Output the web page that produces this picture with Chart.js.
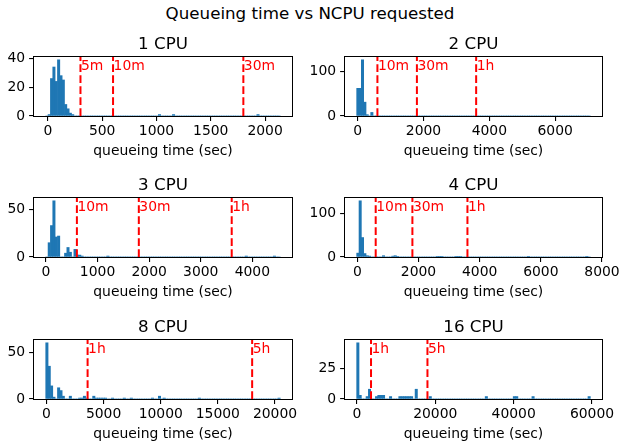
<!DOCTYPE html>
<html>
<head>
<meta charset="utf-8">
<script src="https://cdn.jsdelivr.net/npm/chart.js@4.4.0/dist/chart.umd.min.js"></script>
<style>
  html, body { margin: 0; padding: 0; background: #fff; }
  #figura { position: relative; width: 620px; height: 447px; overflow: hidden; }
  #supertitulo {
    position: absolute; left: 0; top: 3px; width: 620px; text-align: center;
    font-family: "DejaVu Sans"; font-size: 16.7px; line-height: 20px; color: #000;
  }
  canvas { position: absolute; }
</style>
</head>
<body>
<div id="figura">
  <div id="supertitulo">Queueing time vs NCPU requested</div>
</div>
<script>
// Títulos de cada panel
const titulos = ['1 CPU', '2 CPU', '3 CPU', '4 CPU', '8 CPU', '16 CPU'];

// Rango de los datos (seg) de cada panel: los 100 intervalos van del mínimo al máximo
const minimos = [-20, -30, -4, -22, -64, -59];
const maximos = [2140, 7069, 4541, 7618, 20461, 59562];

// Intervalos con trabajos (índice del intervalo) y cuántos trabajos caen en cada uno
const intervalos1 = [1, 2, 3, 4, 5, 6, 7, 8, 9, 10, 11, 48, 54, 90];
const cuentas1    = [1, 26, 34, 24, 39, 28, 25, 8, 5, 2, 1, 1, 1, 1];
const intervalos2 = [0, 1, 2, 3, 4, 6];
const cuentas2    = [62, 62, 126, 31, 3, 8];
const intervalos3 = [1, 2, 3, 4, 5, 8, 9, 10, 12, 13, 14, 15, 26, 85, 97];
const cuentas3    = [15, 33, 59, 21, 22, 4, 10, 5, 8, 2, 2, 1, 1, 1, 1];
const intervalos4 = [0, 1, 2, 3, 4, 5, 11, 15, 16, 17, 34, 35, 36, 42, 43, 44, 73, 98];
const cuentas4    = [9, 130, 45, 8, 3, 2, 3, 2, 3, 1, 1, 1, 1, 1, 1, 1, 1, 1];
const intervalos8 = [0, 1, 2, 3, 5, 6, 7, 10, 14, 15, 16, 17, 20, 21, 22, 23, 24, 25, 28, 33, 36, 45, 48, 50, 65, 99];
const cuentas8    = [60, 35, 14, 2, 12, 9, 3, 3, 1, 1, 3, 1, 3, 1, 1, 1, 1, 1, 1, 1, 1, 1, 3, 1, 1, 1];
const intervalos16 = [0, 1, 4, 5, 8, 9, 10, 11, 14, 18, 19, 20, 21, 22, 23, 25, 31, 55, 67, 68, 75, 99];
const cuentas16    = [46, 3, 2, 8, 2, 3, 3, 3, 2, 2, 2, 2, 2, 2, 2, 8, 2, 2, 2, 2, 2, 2];

// Líneas de referencia (seg) y sus etiquetas
const cortes1 = [300, 600, 1800];    const etiquetas1 = ['5m', '10m', '30m'];
const cortes2 = [600, 1800, 3600];   const etiquetas2 = ['10m', '30m', '1h'];
const cortes3 = [600, 1800, 3600];   const etiquetas3 = ['10m', '30m', '1h'];
const cortes4 = [600, 1800, 3600];   const etiquetas4 = ['10m', '30m', '1h'];
const cortes8 = [3600, 18000];       const etiquetas8 = ['1h', '5h'];
const cortes16 = [3600, 18000];      const etiquetas16 = ['1h', '5h'];

// Marcas de los ejes
const ticksX1 = [0, 500, 1000, 1500, 2000];
const ticksX2 = [0, 2000, 4000, 6000];
const ticksX3 = [0, 1000, 2000, 3000, 4000];
const ticksX4 = [0, 2000, 4000, 6000, 8000];
const ticksX8 = [0, 5000, 10000, 15000, 20000];
const ticksX16 = [0, 20000, 40000, 60000];
const ticksY1 = [0, 20, 40];
const ticksY2 = [0, 100];
const ticksY3 = [0, 50];
const ticksY4 = [0, 100];
const ticksY8 = [0, 50];
const ticksY16 = [0, 25];

const paneles = [
  { intervalos: intervalos1, cuentas: cuentas1, cortes: cortes1, etiquetas: etiquetas1, ticksX: ticksX1, ticksY: ticksY1 },
  { intervalos: intervalos2, cuentas: cuentas2, cortes: cortes2, etiquetas: etiquetas2, ticksX: ticksX2, ticksY: ticksY2 },
  { intervalos: intervalos3, cuentas: cuentas3, cortes: cortes3, etiquetas: etiquetas3, ticksX: ticksX3, ticksY: ticksY3 },
  { intervalos: intervalos4, cuentas: cuentas4, cortes: cortes4, etiquetas: etiquetas4, ticksX: ticksX4, ticksY: ticksY4 },
  { intervalos: intervalos8, cuentas: cuentas8, cortes: cortes8, etiquetas: etiquetas8, ticksX: ticksX8, ticksY: ticksY8 },
  { intervalos: intervalos16, cuentas: cuentas16, cortes: cortes16, etiquetas: etiquetas16, ticksX: ticksX16, ticksY: ticksY16 }
];

const FUENTE = 'DejaVu Sans';
const AZUL = '#1f77b4';
const ROJO = '#ff0000';

// Dibuja las líneas rojas, el marco del eje y las etiquetas
const lineasReferencia = {
  id: 'lineasReferencia',
  afterDatasetsDraw(chart, args, opts) {
    const { ctx, chartArea: a } = chart;
    const x = chart.scales.x;
    ctx.save();
    ctx.strokeStyle = ROJO;
    ctx.lineWidth = 2;
    ctx.setLineDash([7.7, 3.3]);
    opts.cortes.forEach(v => {
      const px = x.getPixelForValue(v);
      ctx.beginPath();
      ctx.moveTo(px, a.bottom);
      ctx.lineTo(px, a.top);
      ctx.stroke();
    });
    ctx.setLineDash([]);

    // Marco
    ctx.strokeStyle = '#000';
    ctx.lineWidth = 1;
    ctx.strokeRect(a.left - 0.5, a.top - 0.5, a.right - a.left + 1, a.bottom - a.top + 1);

    // Etiquetas
    ctx.fillStyle = ROJO;
    ctx.font = '13.9px "' + FUENTE + '"';
    ctx.textAlign = 'left';
    ctx.textBaseline = 'middle';
    opts.cortes.forEach((v, i) => {
      ctx.fillText(opts.etiquetas[i], x.getPixelForValue(v) + 0.5, a.top + 9.5);
    });
    ctx.restore();
  }
};

function generarPanel(i) {
  const p = paneles[i];
  const col = i % 2;
  const fila = Math.floor(i / 2);
  const arriba = [30, 171, 313][fila];
  const izquierda = col === 0 ? 34 : 35;

  const canvas = document.createElement('canvas');
  canvas.width = 310;
  canvas.height = 136;
  canvas.style.left = (col * 310) + 'px';
  canvas.style.top = arriba + 'px';
  document.getElementById('figura').appendChild(canvas);

  // Histograma de 100 intervalos
  const lo = minimos[i];
  const hi = maximos[i];
  const ancho = (hi - lo) / 100;
  const cuentas = new Array(100).fill(0);
  p.intervalos.forEach((k, j) => { cuentas[k] = p.cuentas[j]; });
  const puntos = cuentas.map((c, k) => ({ x: lo + (k + 0.5) * ancho, y: c }));

  // Márgenes del 5% como matplotlib
  const margen = 0.05 * (hi - lo);
  const yMax = Math.max(...p.cuentas) * 1.05;

  new Chart(canvas, {
    type: 'bar',
    data: {
      datasets: [{
        data: puntos,
        backgroundColor: AZUL,
        borderWidth: 0,
        barPercentage: 1,
        categoryPercentage: 1
      }]
    },
    options: {
      responsive: false,
      animation: false,
      devicePixelRatio: 1,
      layout: { padding: { left: 0, right: 18, top: 0, bottom: 0 } },
      plugins: {
        legend: { display: false },
        tooltip: { enabled: false },
        title: {
          display: true,
          text: titulos[i],
          fullSize: false,
          color: '#000',
          font: { family: FUENTE, size: 16.7, weight: 'normal', lineHeight: 1 },
          padding: { top: 6.5, bottom: 3.8 }
        },
        lineasReferencia: { cortes: p.cortes, etiquetas: p.etiquetas }
      },
      scales: {
        x: {
          type: 'linear',
          offset: false,
          min: lo - margen,
          max: hi + margen,
          afterBuildTicks: s => { s.ticks = p.ticksX.map(v => ({ value: v })); },
          afterFit: s => { s.height = 50; s.paddingLeft = 0; s.paddingRight = 0; },
          ticks: {
            color: '#000',
            autoSkip: false,
            maxRotation: 0,
            padding: 2,
            font: { family: FUENTE, size: 13.9, lineHeight: 1.2 },
            callback: v => String(v)
          },
          grid: { drawOnChartArea: false, offset: false, tickLength: 4.9, color: '#000', lineWidth: 1.1 },
          border: { display: false },
          title: {
            display: true,
            text: 'queueing time (sec)',
            color: '#000',
            font: { family: FUENTE, size: 13.9, lineHeight: 1.2 },
            padding: { top: 0, bottom: 6 }
          }
        },
        y: {
          min: 0,
          max: yMax,
          afterBuildTicks: s => { s.ticks = p.ticksY.map(v => ({ value: v })); },
          afterFit: s => { s.width = izquierda; s.paddingTop = 0; s.paddingBottom = 0; },
          ticks: {
            color: '#000',
            padding: 4,
            font: { family: FUENTE, size: 13.9, lineHeight: 1.2 },
            callback: v => String(v)
          },
          grid: { drawOnChartArea: false, tickLength: 4.9, color: '#000', lineWidth: 1.1 },
          border: { display: false }
        }
      }
    },
    plugins: [lineasReferencia]
  });
}

titulos.forEach((t, i) => generarPanel(i));
</script>
</body>
</html>
